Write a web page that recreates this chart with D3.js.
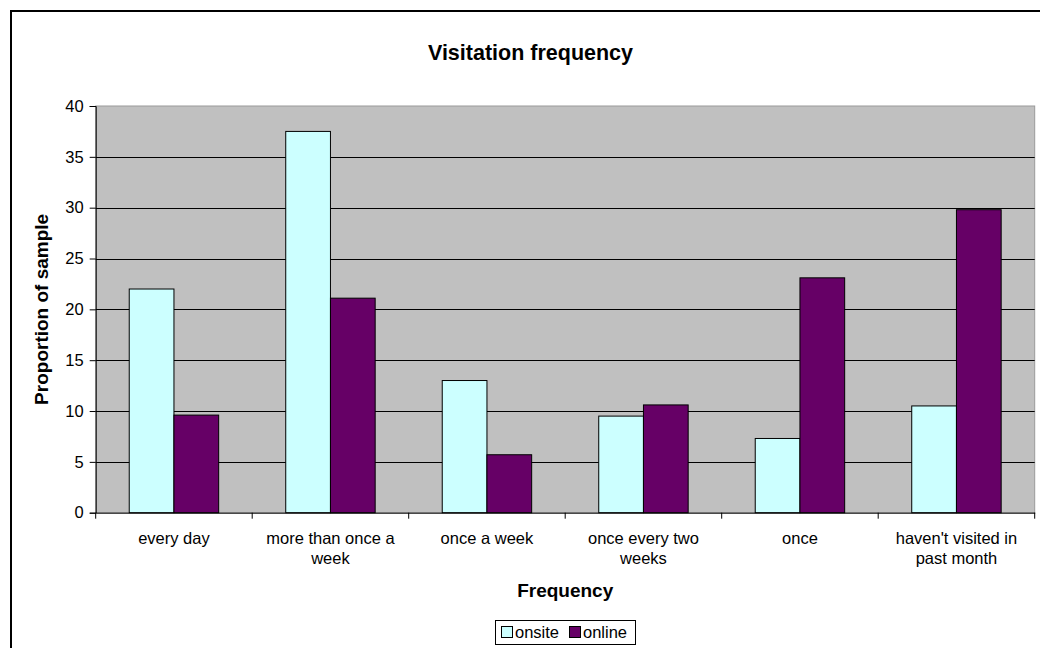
<!DOCTYPE html>
<html><head><meta charset="utf-8">
<script src="https://cdn.jsdelivr.net/npm/d3@7"></script>
<style>body{margin:0;background:#fff;}svg{display:block;font-family:"Liberation Sans",Arial,sans-serif;}</style>
</head><body>
<svg id="chart" width="1040" height="648"></svg>
<script>
const categories = ["every day","more than once a week","once a week","once every two weeks","once","haven't visited in past month"];
const seriesNames = ["onsite","online"];
const onsite = [22.0,37.5,13.0,9.5,7.3,10.5];
const online = [9.6,21.1,5.7,10.6,23.1,29.8];
const yTicks = [0,5,10,15,20,25,30,35,40];
const colors = {onsite:"#CCFFFF", online:"#660066"};

const svg = d3.select("#chart");
const plot = {left:95.7, right:1034.7, top:106, bottom:512.7};

// outer chart border
svg.append("rect").attr("x",11).attr("y",11).attr("width",1100).attr("height",700)
  .attr("fill","#fff").attr("stroke","#000").attr("stroke-width",2);

const x0 = d3.scaleBand().domain(categories).range([plot.left,plot.right]).paddingInner(0).paddingOuter(0);
const x1 = d3.scaleBand().domain(seriesNames).range([0,x0.bandwidth()]).paddingInner(0).paddingOuter(0.75);
const y = d3.scaleLinear().domain([0,40]).range([plot.bottom,plot.top]);

// plot area
svg.append("rect").attr("x",plot.left).attr("y",plot.top).attr("width",plot.right-plot.left).attr("height",plot.bottom-plot.top)
  .attr("fill","#C0C0C0").attr("stroke","#9a9a9a").attr("stroke-width",1);

// gridlines
svg.append("g").selectAll("line").data(yTicks.filter(d=>d>0 && d<40)).join("line")
  .attr("x1",plot.left).attr("x2",plot.right)
  .attr("y1",d=>Math.round(y(d))+0.5).attr("y2",d=>Math.round(y(d))+0.5)
  .attr("stroke","#000").attr("stroke-width",1);

// bars
const data = categories.map((c,i)=>({cat:c, vals:[{s:"onsite",v:onsite[i]},{s:"online",v:online[i]}]}));
const groups = svg.append("g").selectAll("g").data(data).join("g").attr("transform",d=>`translate(${x0(d.cat)},0)`);
groups.selectAll("rect").data(d=>d.vals).join("rect")
  .attr("x",d=>x1(d.s)).attr("width",x1.bandwidth())
  .attr("y",d=>y(d.v)).attr("height",d=>y(0)-y(d.v))
  .attr("fill",d=>colors[d.s]).attr("stroke","#000").attr("stroke-width",1);

// y axis
const yAxis = svg.append("g").attr("transform",`translate(${plot.left},0)`)
  .call(d3.axisLeft(y).tickValues(yTicks).tickSize(6).tickPadding(6).tickFormat(d3.format("d")));
yAxis.select(".domain").attr("stroke","#000");
yAxis.selectAll("line").attr("stroke","#000");
yAxis.selectAll("text").attr("font-size","16.5px").attr("fill","#000").attr("font-family","Liberation Sans, Arial, sans-serif");

// x axis
const xAxis = svg.append("g").attr("transform",`translate(0,${plot.bottom})`)
  .call(d3.axisBottom(x0).tickSize(0).tickPadding(20));
xAxis.select(".domain").attr("stroke","#000");
const boundaries = categories.map(c=>x0(c)).concat([plot.right]);
xAxis.selectAll(".bound").data(boundaries).join("line").attr("class","bound")
  .attr("x1",d=>d).attr("x2",d=>d).attr("y1",0).attr("y2",6).attr("stroke","#000");
xAxis.selectAll(".tick text").attr("font-size","16.5px").attr("fill","#000")
  .attr("font-family","Liberation Sans, Arial, sans-serif")
  .each(function(d){
    const t = d3.select(this);
    const words = d.split(" ");
    t.text(null);
    let line = [];
    let ts = t.append("tspan").attr("x",0).attr("dy","0");
    const maxW = 148;
    words.forEach(w=>{
      line.push(w);
      ts.text(line.join(" "));
      if (ts.node().getComputedTextLength() > maxW && line.length>1){
        line.pop(); ts.text(line.join(" "));
        line=[w];
        ts = t.append("tspan").attr("x",0).attr("dy","20px").text(w);
      }
    });
  });
xAxis.selectAll(".tick text").attr("y",31).attr("dy","0.71em");

// titles
svg.append("text").attr("x",530.5).attr("y",60).attr("text-anchor","middle")
  .attr("font-size","21.5px").attr("font-weight","bold").text("Visitation frequency");
svg.append("text").attr("x",(plot.left+plot.right)/2).attr("y",597).attr("text-anchor","middle")
  .attr("font-size","19px").attr("font-weight","bold").text("Frequency");
svg.append("text").attr("transform",`translate(48,${(plot.top+plot.bottom)/2}) rotate(-90)`)
  .attr("text-anchor","middle").attr("font-size","19px").attr("font-weight","bold").text("Proportion of sample");

// legend
const lg = svg.append("g");
lg.append("rect").attr("x",495.5).attr("y",620.5).attr("width",140).attr("height",24)
  .attr("fill","#fff").attr("stroke","#000").attr("stroke-width",1);
const items = [{s:"onsite",x:501},{s:"online",x:569}];
items.forEach(it=>{
  lg.append("rect").attr("x",it.x+0.5).attr("y",626.5).attr("width",11).attr("height",11)
    .attr("fill",colors[it.s]).attr("stroke","#000").attr("stroke-width",1);
  lg.append("text").attr("x",it.x+14).attr("y",638).attr("font-size","16.5px").text(it.s);
});
</script>
</body></html>
